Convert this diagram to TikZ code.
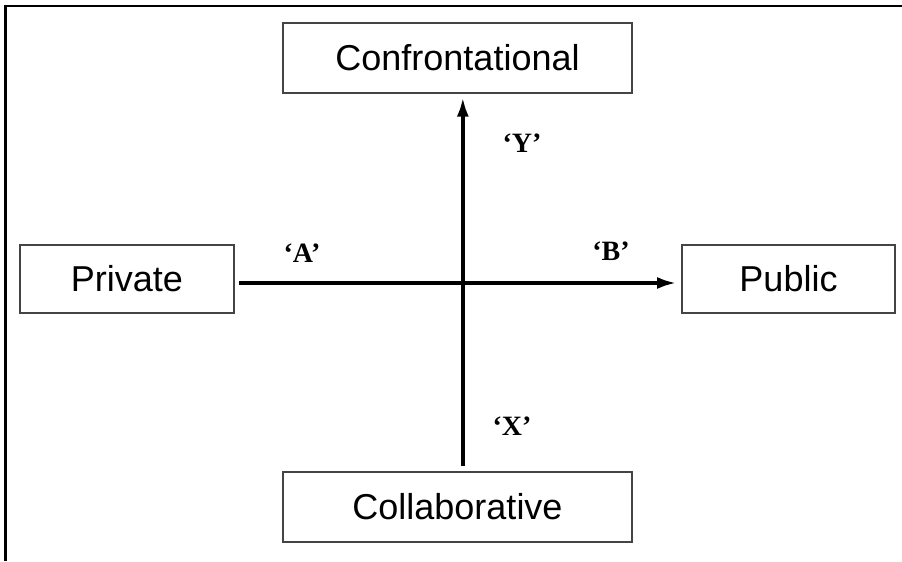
\documentclass[tikz,border=0pt]{standalone}
\usepackage{fontspec}
\setmainfont{Liberation Serif}
\setsansfont{Liberation Sans}
\usepackage{tikz}
\usetikzlibrary{positioning,arrows.meta}
\definecolor{bordecaja}{RGB}{68,68,68}

\begin{document}
\begin{tikzpicture}[
  x=0.75pt, y=-0.75pt,
  caja/.style={draw=bordecaja, line width=1.5pt, inner sep=0pt,
    font=\sffamily\fontsize{27}{32}\selectfont},
  eje/.style={line width=3pt, -{Latex[length=15pt,width=9pt]}},
  etq/.style={font=\bfseries\fontsize{21}{25}\selectfont}
]
\useasboundingbox (0,0) rectangle (902,561);
% marco
\draw[line width=2.2pt] (5.5,561) -- (5.5,6) -- (902,6);
% cajas
\node[caja, minimum width=261.75pt, minimum height=52.5pt] (confr) at (457.5,58) {Confrontational};
\node[caja, minimum width=261.75pt, minimum height=52.5pt] (colab) at (457.5,507) {Collaborative};
\node[caja, minimum width=160.5pt, minimum height=51pt] (priv) at (127,279) {Private};
\node[caja, minimum width=159.75pt, minimum height=51pt] (pub) at (788.5,279) {Public};
% ejes
\draw[eje, shorten <=3pt, shorten >=3pt] ([yshift=-3pt]priv.east) -- ([yshift=-3pt]pub.west);
\draw[eje, shorten <=4pt, shorten >=2pt] ([xshift=4pt]colab.north) -- ([xshift=4pt]confr.south);
% etiquetas
\node[etq] (a) at (302,253) {‘A’};
\node[etq] (b) at (611,251) {‘B’};
\node[etq] (y) at (522,143) {‘Y’};
\node[etq] (x) at (512,426) {‘X’};
\end{tikzpicture}
\end{document}
